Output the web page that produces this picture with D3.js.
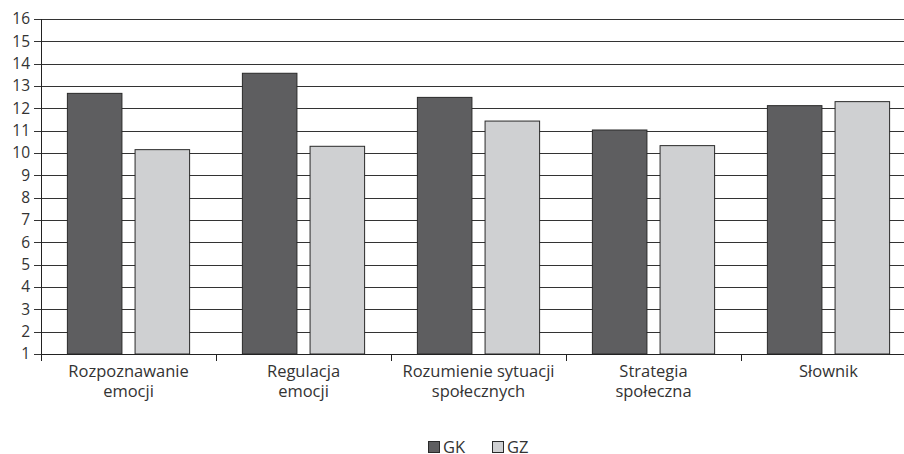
<!DOCTYPE html>
<html>
<head>
<meta charset="utf-8">
<script src="https://cdn.jsdelivr.net/npm/d3@7"></script>
<style>
  html, body { margin: 0; padding: 0; background: #fff; }
  svg { display: block; }
  text { font-family: "Open Sans", "Noto Sans", sans-serif; fill: #333; }
</style>
</head>
<body>
<svg id="chart" width="904" height="454"></svg>
<script>
const categories = [
  ["Rozpoznawanie", "emocji"],
  ["Regulacja", "emocji"],
  ["Rozumienie sytuacji", "społecznych"],
  ["Strategia", "społeczna"],
  ["Słownik"]
];
const seriesNames = ["GK", "GZ"];
const gkValues = [12.67, 13.57, 12.49, 11.03, 12.12];
const gzValues = [10.15, 10.30, 11.43, 10.33, 12.30];
const yTicks = [1, 2, 3, 4, 5, 6, 7, 8, 9, 10, 11, 12, 13, 14, 15, 16];
const colors = { GK: "#5e5e60", GZ: "#cfd0d2" };

const svg = d3.select("#chart");
const W = 904, H = 454;
const plotLeft = 41, plotTop = 19, plotBottom = 354, plotRight = 916;

const catKeys = categories.map((c, i) => i);
const x = d3.scaleBand().domain(catKeys).range([plotLeft, plotRight]).paddingInner(0).paddingOuter(0);
const xInner = d3.scaleBand().domain(seriesNames).range([0, x.bandwidth()])
  .paddingInner(0.194).paddingOuter(0.39);
const y = d3.scaleLinear().domain([1, 16]).range([plotBottom, plotTop]);

svg.append("clipPath").attr("id", "clip")
  .append("rect").attr("x", 0).attr("y", 0).attr("width", W).attr("height", H);

const g = svg.append("g").attr("clip-path", "url(#clip)");

// horizontal gridlines with left tick marks
const yAxis = d3.axisLeft(y).tickValues(yTicks).tickSize(-(plotRight - plotLeft)).tickPadding(12)
  .tickFormat(d3.format("d"));
const ya = g.append("g").attr("transform", `translate(${plotLeft},0)`).call(yAxis);
ya.select(".domain").remove();
ya.selectAll(".tick line").attr("stroke", "#333").attr("stroke-width", 1)
  .attr("x1", -7).attr("shape-rendering", "crispEdges");
ya.selectAll(".tick text").attr("font-size", 15.5).attr("fill", "#333")
  .attr("font-family", "'Open Sans', sans-serif").attr("x", -11);

// bars
const data = [];
catKeys.forEach(i => {
  data.push({ c: i, s: "GK", v: gkValues[i] });
  data.push({ c: i, s: "GZ", v: gzValues[i] });
});
g.append("g").selectAll("rect").data(data).join("rect")
  .attr("x", d => x(d.c) + xInner(d.s))
  .attr("y", d => y(d.v))
  .attr("width", xInner.bandwidth())
  .attr("height", d => y(1) - y(d.v))
  .attr("fill", d => colors[d.s])
  .attr("stroke", "#2a2a2a")
  .attr("stroke-width", 1);

// x axis with band boundary ticks
const xa = g.append("g").attr("transform", `translate(0,${plotBottom})`);
xa.append("line").attr("x1", plotLeft).attr("x2", plotRight).attr("y1", 0.5).attr("y2", 0.5)
  .attr("stroke", "#222");
xa.selectAll("line.tk").data(catKeys.concat([catKeys.length])).join("line")
  .attr("class", "tk")
  .attr("x1", d => Math.round(plotLeft + d * x.bandwidth()) + 0.5)
  .attr("x2", d => Math.round(plotLeft + d * x.bandwidth()) + 0.5)
  .attr("y1", 0).attr("y2", 7).attr("stroke", "#222");
xa.selectAll("text.cat").data(catKeys).join("text")
  .attr("class", "cat")
  .attr("text-anchor", "middle")
  .attr("font-size", 16.5)
  .attr("transform", d => `translate(${x(d) + x.bandwidth() / 2},0)`)
  .each(function (d) {
    const t = d3.select(this);
    categories[d].forEach((line, k) => {
      t.append("tspan").attr("x", 0).attr("y", 23 + k * 20).text(line);
    });
  });

// y axis line
g.append("line").attr("x1", plotLeft + 0.5).attr("x2", plotLeft + 0.5)
  .attr("y1", plotTop).attr("y2", plotBottom + 7).attr("stroke", "#222");

// legend
const legend = svg.append("g").attr("transform", "translate(428,441)");
seriesNames.forEach((s, i) => {
  const lg = legend.append("g").attr("transform", `translate(${i * 64},0)`);
  lg.append("rect").attr("x", 0.5).attr("y", 0.5).attr("width", 11).attr("height", 11)
    .attr("fill", colors[s]).attr("stroke", "#2a2a2a");
  lg.append("text").attr("x", 15).attr("y", 11.5).attr("font-size", 16.5).text(s);
});
</script>
</body>
</html>
